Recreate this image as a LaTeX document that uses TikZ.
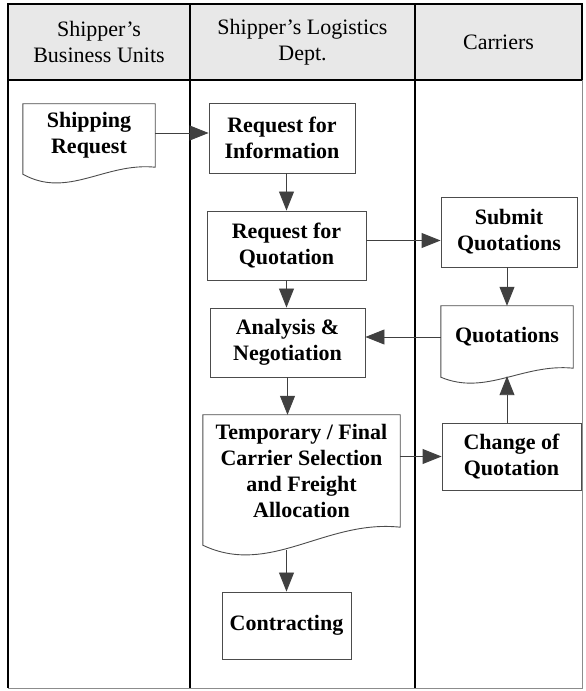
\documentclass[tikz,border=0pt]{standalone}
\usepackage{fontspec}
\setmainfont{Liberation Serif}
\usetikzlibrary{positioning,calc,arrows.meta}

\newcommand{\lanefont}{\fontsize{22}{26}\selectfont}

\tikzset{
  lane/.style={line width=2.2pt, black},
  head/.style={align=center, font=\lanefont},
  box/.style={draw=black!70, line width=0.9pt, fill=white, font=\lanefont\bfseries, align=center, inner sep=0pt},
  doc/.style={font=\lanefont\bfseries, align=center, inner sep=0pt},
  flow/.style={draw=black!75, line width=0.9pt, -{Triangle[length=19pt,width=15pt]}},
}

% document symbol: outline with wavy bottom round a node
\newcommand{\docwave}[4]{%
  \draw[draw=black!70, line width=0.9pt]
    ($(#1.south west)+(0,-#4)$) -- (#1.north west) -- (#1.north east) -- (#1.south east)
    .. controls ($(#1.south east)!0.38!(#1.south west)+(0,#2)$)
            and ($(#1.south east)!0.66!(#1.south west)+(0,-#3)$)
    .. ($(#1.south west)+(0,-#4)$) -- cycle;}

\begin{document}
\begin{tikzpicture}[x=1pt,y=1pt]
    \useasboundingbox (0,0) rectangle (586,691);

    % swim lanes
    \fill[gray!18] (8,611) rectangle (582,687);
    \draw[black!45, line width=0.8pt] (582,611) -- (582,3) -- (8,3);
    \draw[lane] (8,3) -- (8,687) -- (582,687) -- (582,611) (8,611) -- (582,611);
    \draw[lane] (190,3) -- (190,687) (415,3) -- (415,687);

    \node[head] (bu) at (99,649) {Shipper's\\Business Units};
    \node[head] (ld) at (302.5,649) {Shipper's Logistics\\Dept.};
    \node[head] (ca) at (498.5,649) {Carriers};

    % steps
    \node[doc, minimum width=132pt, minimum height=63pt] (ship) at (89,555.5) {Shipping\\Request};
    \docwave{ship}{5}{32}{7}
    \node[box, minimum width=146pt, minimum height=70pt] (rfi) at (282,553) {Request for\\Information};
    \node[box, minimum width=159pt, minimum height=69pt] (rfq) at (286.5,445.5) {Request for\\Quotation};
    \node[box, minimum width=155pt, minimum height=69pt] (ana) at (287.5,348.5) {Analysis \&\\Negotiation};
    \node[doc, minimum width=197pt, minimum height=112pt] (temp) at (301.5,220) {Temporary / Final\\Carrier Selection\\and Freight\\Allocation};
    \docwave{temp}{8}{50}{18}
    \node[box, minimum width=129pt, minimum height=67pt] (con) at (286.5,65.5) {Contracting};

    \node[box, minimum width=136pt, minimum height=70pt] (sub) at (509,459) {Submit\\Quotations};
    \node[doc, minimum width=132pt, minimum height=62pt] (quo) at (507,354) {Quotations};
    \docwave{quo}{5}{28}{9}
    \node[box, minimum width=139pt, minimum height=67pt] (chg) at (511.5,234.5) {Change of\\Quotation};

    % flows
    \draw[flow] ([yshift=2.5pt]ship.east) -- ([yshift=2.5pt]ship.east -| rfi.west);
    \draw[flow] (rfi.south -| rfq.north) -- (rfq.north);
    \draw[flow] ([yshift=5pt]rfq.east) -- ([yshift=5pt]rfq.east -| sub.west);
    \draw[flow] (rfq.south) -- (rfq.south |- ana.north);
    \draw[flow] (quo.north |- sub.south) -- (quo.north);
    \draw[flow] (quo.west) -- (quo.west -| ana.east);
    \draw[flow] (ana.south) -- (ana.south |- temp.north);
    \draw[flow] (chg.west -| temp.east) -- (chg.west);
    \draw[flow] (quo.south |- chg.north) -- ($(quo.south)+(0,-8)$);
    \draw[flow] ($(temp.south -| con.north)+(0,-23)$) -- (con.north);
\end{tikzpicture}
\end{document}
